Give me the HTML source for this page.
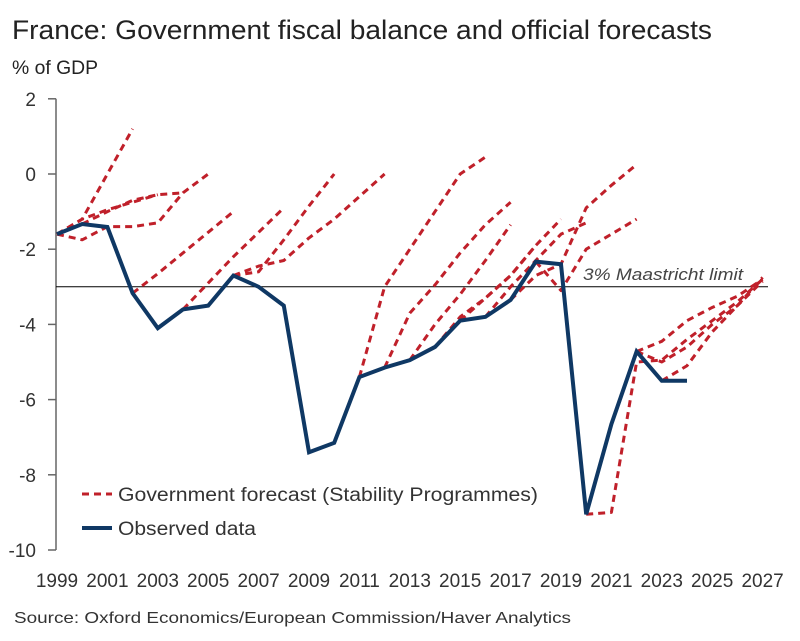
<!DOCTYPE html>
<html><head><meta charset="utf-8"><style>
body{margin:0;background:#fff;width:800px;height:636px;overflow:hidden;font-family:"Liberation Sans",sans-serif}
svg text{font-family:"Liberation Sans",sans-serif}
</style></head><body>
<svg id="chart" width="800" height="636">
<text x="12" y="39" font-size="27" fill="#222" textLength="700" lengthAdjust="spacingAndGlyphs">France: Government fiscal balance and official forecasts</text>
<text x="12" y="74" font-size="19" fill="#222" textLength="86" lengthAdjust="spacingAndGlyphs">% of GDP</text>
<text x="14" y="623" font-size="16" fill="#333" textLength="557" lengthAdjust="spacingAndGlyphs">Source: Oxford Economics/European Commission/Haver Analytics</text>
<g id="axes"></g><g id="series"></g>
<g>
<line x1="82" y1="494" x2="112" y2="494" stroke="#c0202a" stroke-width="3" stroke-dasharray="7,5"/>
<text x="118" y="501" font-size="19" fill="#333" textLength="420" lengthAdjust="spacingAndGlyphs">Government forecast (Stability Programmes)</text>
<line x1="82" y1="528" x2="112" y2="528" stroke="#0f3864" stroke-width="4"/>
<text x="118" y="535" font-size="19" fill="#333" textLength="138" lengthAdjust="spacingAndGlyphs">Observed data</text>
</g>
</svg>
<script>
const yTicks=[2,0,-2,-4,-6,-8,-10];
const xTicks=[1999,2001,2003,2005,2007,2009,2011,2013,2015,2017,2019,2021,2023,2025,2027];
const observedYears=[1999,2000,2001,2002,2003,2004,2005,2006,2007,2008,2009,2010,2011,2012,2013,2014,2015,2016,2017,2018,2019,2020,2021,2022,2023,2024];
const observedValues=[-1.6,-1.33,-1.41,-3.17,-4.1,-3.6,-3.5,-2.7,-3.0,-3.5,-7.4,-7.15,-5.4,-5.15,-4.95,-4.6,-3.9,-3.8,-3.35,-2.33,-2.4,-9.05,-6.65,-4.72,-5.5,-5.5];
const maastricht=-3;
const forecastStarts=[1999,1999,1999,2000,2002,2004,2006,2006,2011,2012,2013,2014,2015,2016,2017,2018,2020,2022,2022,2023];
const forecastValues=[
[-1.6,-1.2,0,1.2],
[-1.6,-1.2,-0.95,-0.75,-0.55],
[-1.6,-1.75,-1.4,-1.4,-1.3,-0.5,0],
[-1.33,-1.0,-0.7,-0.55,-0.5],
[-3.17,-2.65,-2.1,-1.55,-1.0],
[-3.6,-2.9,-2.2,-1.55,-0.9],
[-2.7,-2.45,-2.3,-1.7,-1.2,-0.6,0],
[-2.7,-2.6,-1.75,-0.85,0],
[-5.4,-3.0,-2.0,-1.0,0,0.45],
[-5.15,-3.7,-2.95,-2.1,-1.35,-0.75],
[-4.95,-4.0,-3.2,-2.3,-1.35],
[-4.6,-3.8,-3.3,-2.7,-1.9,-1.2],
[-3.9,-3.3,-2.7,-1.9],
[-3.8,-3.0,-2.3,-1.6,-1.3],
[-3.35,-2.7,-2.4,-0.9,-0.3,0.25],
[-2.33,-3.1,-2.0,-1.6,-1.2],
[-9.05,-9.0,-5.0,-4.95,-4.4,-3.9,-3.4,-2.8],
[-4.72,-4.45,-3.9,-3.55,-3.25,-2.8],
[-4.72,-5.0,-4.6,-4.0,-3.5,-2.85],
[-5.5,-5.1,-4.2,-3.5,-2.75]
];
const NS='http://www.w3.org/2000/svg';
const X=yr=>57+(yr-1999)*25.2;
const Y=v=>174-v*37.6;
const ax=document.getElementById('axes'),se=document.getElementById('series');
function mk(tag,attrs,parent){const e=document.createElementNS(NS,tag);for(const k in attrs)e.setAttribute(k,attrs[k]);parent.appendChild(e);return e;}
const yl=mk('line',{x1:56,y1:Y(2),x2:56,y2:Y(-10),stroke:'#666','stroke-width':1.5},ax);


yTicks.forEach(v=>{
 const t=mk('line',{x1:48,y1:Y(v),x2:56,y2:Y(v),stroke:'#666','stroke-width':1.5},ax);
 
 
 const l=mk('text',{x:36,y:Y(v)+7,'font-size':19,fill:'#333','text-anchor':'end'},ax);
 l.textContent=v;
 
 
});
xTicks.forEach(yr=>{
 const l=mk('text',{x:X(yr),y:587,'font-size':19,fill:'#333','text-anchor':'middle'},ax);
 l.textContent=yr;
 
 
});
const ml=mk('line',{x1:56,y1:Y(maastricht),x2:768,y2:Y(maastricht),stroke:'#000','stroke-width':1},ax);


const mt=mk('text',{x:583,y:Y(maastricht)-7,'font-size':17,'font-style':'italic',fill:'#444',textLength:160,lengthAdjust:'spacingAndGlyphs'},ax);
mt.textContent='3% Maastricht limit';


forecastValues.forEach((vals,i)=>{
 const pts=vals.map((v,j)=>X(forecastStarts[i]+j)+','+Y(v)).join(' ');
 const p=mk('polyline',{points:pts,fill:'none',stroke:'#c0202a','stroke-width':3,'stroke-dasharray':'7,5','stroke-linejoin':'round'},se);
 
 
});
const op=mk('polyline',{points:observedYears.map((yr,i)=>X(yr)+','+Y(observedValues[i])).join(' '),fill:'none',stroke:'#0f3864','stroke-width':4,'stroke-linejoin':'miter'},se);


</script>
</body></html>
